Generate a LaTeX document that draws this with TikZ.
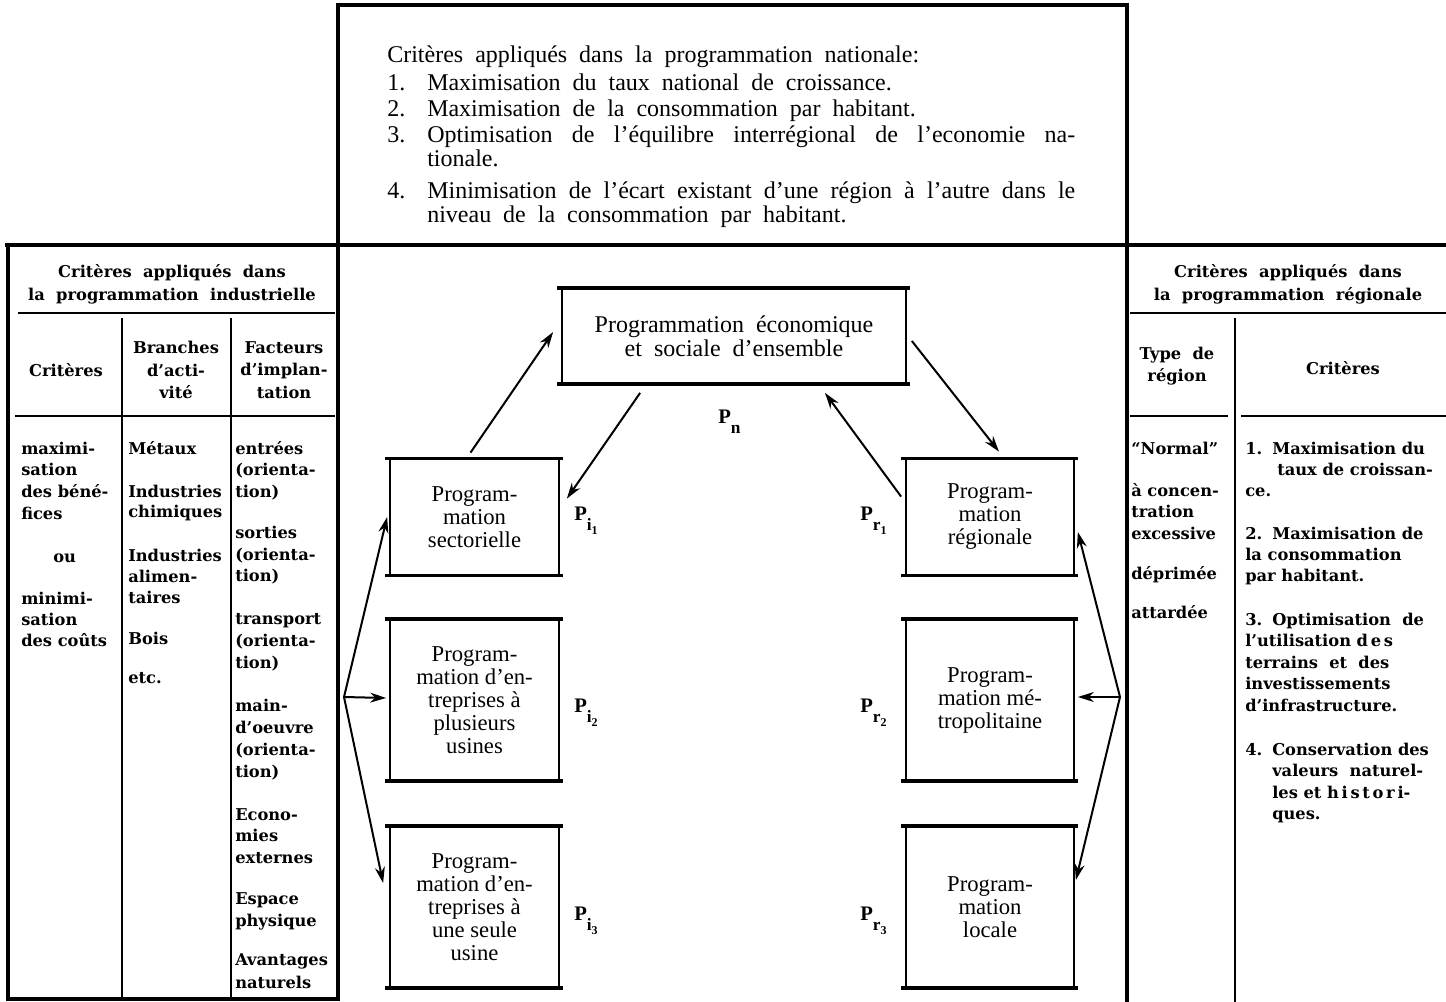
\documentclass[tikz,border=0pt]{standalone}
\usepackage{fontspec}
\newfontfamily\narrowfont{Liberation Serif}
\newfontfamily\tabfont{DejaVu Serif}
\usetikzlibrary{arrows.meta,calc}

% P label with a lowered double subscript
\newcommand{\plab}[2]{P\raisebox{-8pt}{\fontsize{13}{13}\selectfont #1\raisebox{-2.5pt}{\fontsize{9}{9}\selectfont #2}}}

\begin{document}
\begin{tikzpicture}[x=0.75pt,y=0.75pt,yscale=-1,xscale=1,
  heavyline/.style={line width=3.5pt},
  ruleline/.style={line width=1.8pt},
  boxrule/.style={line width=2.6pt},
  prog/.style={draw,line width=1.3pt,align=center,inner sep=0pt,minimum width=126.75pt,
    font=\narrowfont\fontsize{17}{17.25}\selectfont},
  arr/.style={line width=1.5pt,-{Stealth[length=12pt,width=7.5pt]}},
  tab/.style={anchor=base west,inner sep=0pt,font=\tabfont\bfseries\fontsize{12.2}{16}\selectfont},
  head/.style={align=center,inner sep=0pt,font=\tabfont\bfseries\fontsize{12.2}{17}\selectfont},
  plabel/.style={anchor=base west,inner sep=0pt,font=\narrowfont\bfseries\fontsize{15.5}{15.5}\selectfont}]
\useasboundingbox (0,0) rectangle (1446,1002);

%Straight Lines [frame]
\draw[heavyline] (338,5) -- (1127,5);
\draw[heavyline] (338,3) -- (338,1000);
\draw[heavyline] (1127,3) -- (1127,1002);
\draw[heavyline] (5,245) -- (1446,245);
\draw[heavyline] (8,243) -- (8,999) -- (340,999);
%Straight Lines [left table]
\draw[ruleline] (18,313) -- (335,313);
\draw[ruleline] (15,416) -- (335,416);
\draw[ruleline] (122,318) -- (122,999);
\draw[ruleline] (231,318) -- (231,999);
%Straight Lines [right table]
\draw[ruleline] (1130,313) -- (1446,313);
\draw[ruleline] (1130,416) -- (1228,416);
\draw[ruleline] (1241,416) -- (1446,416);
\draw[ruleline] (1235,318) -- (1235,1002);

% Text Node
\node[anchor=north west,text width=516pt,align=justify,inner sep=0pt,
  font=\narrowfont\fontsize{18}{18}\selectfont] (natl) at (387,46) {%
  \parindent=0pt\parskip=1.5pt\spaceskip=0.5em plus 1em minus 0.1em
  Critères appliqués dans la programmation nationale:\par\vspace{1.5pt}
  \hangindent=30pt\hangafter=1 \makebox[30pt][l]{1.}Maximisation du taux national de croissance.\par
  \hangindent=30pt\hangafter=1 \makebox[30pt][l]{2.}Maximisation de la consommation par habitant.\par
  \hangindent=30pt\hangafter=1 \makebox[30pt][l]{3.}Optimisation de l’équilibre interrégional de l’economie na-\linebreak tionale.\par\vspace{4pt}
  \hangindent=30pt\hangafter=1 \makebox[30pt][l]{4.}Minimisation de l’écart existant d’une région à l’autre dans le\linebreak niveau de la consommation par habitant.\par};

% Text Node
\node[head] (lhead) at (172,284) {Critères\ \ appliqués\ \ dans\\la\ \ programmation\ \ industrielle};
\node[head] (lcrit) at (66,370) {Critères};
\node[head] (lbranch) at (176,370) {Branches\\d’acti-\\vité};
\node[head] (lfact) at (284,370) {Facteurs\\d’implan-\\tation};
\node[head] (rhead) at (1288,284) {Critères\ \ appliqués\ \ dans\\la\ \ programmation\ \ régionale};
\node[head] (rtype) at (1177,366) {Type\ \ de\\région};
\node[head] (rcrit) at (1343,368) {Critères};

% Text Node [left table body]
\foreach \x/\y/\t [count=\i] in {21/454/maximi-, 21/475/sation, 21/497/des béné-, 21/519/fices,
    53/562/ou, 21/604/minimi-, 21/625/sation, 21/646/des coûts}
  \node[tab] (crit\i) at (\x,\y) {\t};
\foreach \y/\t [count=\i] in {454/Métaux, 497/Industries, 517/chimiques, 561/Industries,
    582/alimen-, 603/taires, 644/Bois, 683/etc.}
  \node[tab] (bra\i) at (128,\y) {\t};
\foreach \y/\t [count=\i] in {454/entrées, 475/(orienta-, 497/tion), 538/sorties, 560/(orienta-,
    581/tion), 624/transport, 646/(orienta-, 668/tion), 711/main-, 733/d’oeuvre, 755/(orienta-,
    777/tion), 820/Econo-, 841/mies, 863/externes, 904/Espace, 926/physique, 965/Avantages, 988/naturels}
  \node[tab] (fac\i) at (235,\y) {\t};

% Text Node [right table body]
\foreach \y/\t [count=\i] in {454/“Normal”, 496/à concen-, 517/tration, 539/excessive,
    579/déprimée, 618/attardée}
  \node[tab] (type\i) at (1131,\y) {\t};
\foreach \y/\t [count=\i] in {454/1., 539/2., 625/3., 755/4.}
  \node[tab] (num\i) at (1245,\y) {\t};
\foreach \x/\y/\t [count=\i] in {1272/454/Maximisation du, 1277/475/taux de croissan-,
    1245/496/ce., 1272/539/Maximisation de, 1245/560/la consommation, 1245/581/par habitant.,
    1272/625/Optimisation\ \ de, 1245/646/l’utilisation\ d\,e\,s, 1245/668/terrains\ \ et\ \ des,
    1245/689/investissements, 1245/711/d’infrastructure., 1272/755/Conservation des,
    1272/776/valeurs\ \ naturel-, 1272/798/les et h\,i\,s\,t\,o\,r\,i-, 1272/819/ques.}
  \node[tab] (reg\i) at (\x,\y) {\t};

% Programme boxes
\node[prog,minimum width=258pt,minimum height=70.5pt,font=\narrowfont\fontsize{18}{18}\selectfont]
  (ens) at (734,336) {Programmation\ \ économique\\et\ \ sociale\ \ d’ensemble};
\node[prog,minimum height=86.25pt] (sect) at (474.5,517) {Program-\\mation\\sectorielle};
\node[prog,minimum height=120pt] (ent2) at (474.5,700) {Program-\\mation d’en-\\treprises à\\plusieurs\\usines};
\node[prog,minimum height=120pt] (ent3) at (474.5,907) {Program-\\mation d’en-\\treprises à\\une seule\\usine};
\node[prog,minimum width=126pt,minimum height=86.25pt] (reg) at (990,517) {Program-\\mation\\régionale};
\node[prog,minimum width=126pt,minimum height=120pt] (metro) at (990,700) {Program-\\mation mé-\\tropolitaine};
\node[prog,minimum width=126pt,minimum height=120pt] (loc) at (990,907) {Program-\\mation\\locale};
\foreach \b in {ens,sect,ent2,ent3,reg,metro,loc}
  \draw[boxrule] ($(\b.north west)+(-4,0)$) -- ($(\b.north east)+(3,0)$)
                 ($(\b.south west)+(-4,0)$) -- ($(\b.south east)+(3,0)$);

% Text Node [P labels]
\node[plabel] (pn) at (718,423) {\plab{n}{}};
\node[plabel] (pi1) at (574,520) {\plab{i}{1}};
\node[plabel] (pi2) at (574,712) {\plab{i}{2}};
\node[plabel] (pi3) at (574,920) {\plab{i}{3}};
\node[plabel] (pr1) at (860,520) {\plab{r}{1}};
\node[plabel] (pr2) at (860,712) {\plab{r}{2}};
\node[plabel] (pr3) at (860,920) {\plab{r}{3}};

%Straight Lines [arrows]
\draw[arr] ($(sect.north)+(-4,-6)$) -- ($(ens.west)+(-8,-4)$);
\draw[arr] ($(ens.south west)+(79,9)$) -- ($(sect.north east)+(7,40)$);
\draw[arr] ($(ens.east)+(5,5)$) -- ($(reg.north)+(9,-7)$);
\draw[arr] ($(reg.north west)+(-4,38)$) -- ($(ens.south)+(91,9)$);
\coordinate (lfan) at (344,697);
\draw[arr] (lfan) -- ($(sect.west)+(-2,0)$);
\draw[arr] (lfan) -- ($(ent2.west)+(-3,-2)$);
\draw[arr] (lfan) -- ($(ent3.west)+(-6,-24)$);
\coordinate (rfan) at (1120,697);
\draw[arr] (rfan) -- ($(reg.east)+(3,15)$);
\draw[arr] (rfan) -- ($(metro.east)+(3,-3)$);
\draw[arr] (rfan) -- ($(loc.east)+(1,-27)$);

\end{tikzpicture}
\end{document}
